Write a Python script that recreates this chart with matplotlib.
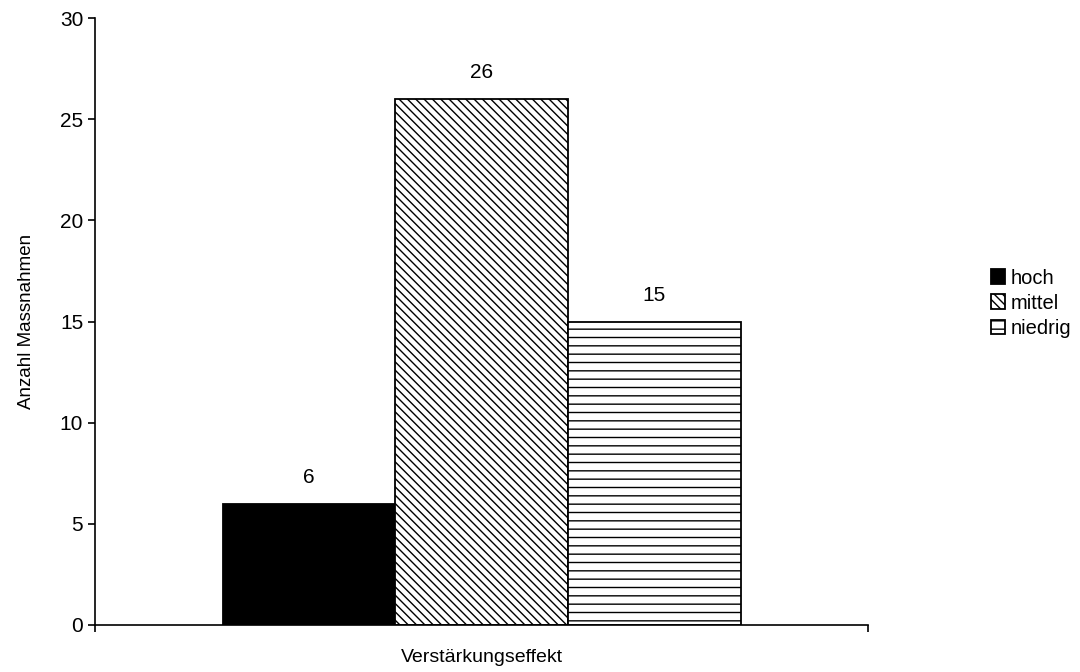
import numpy as np
import matplotlib
matplotlib.use("Agg")
import matplotlib.pyplot as plt

# data
kategorie = "Verstärkungseffekt"
stufen = ["hoch", "mittel", "niedrig"]
anzahl = [6, 26, 15]
muster = ["", "\\\\\\\\", "--"]
farben = ["black", "white", "white"]

plt.rcParams["font.family"] = ["Liberation Sans", "DejaVu Sans"]
plt.rcParams["hatch.linewidth"] = 1.0

fig = plt.figure(figsize=(10.8, 6.72), dpi=100)
ax = fig.add_axes([0.088, 0.070, 0.716, 0.903])

x = np.arange(len(stufen)) - 1
for i in range(len(stufen)):
    ax.bar(x[i], anzahl[i], width=1.0, color=farben[i], edgecolor="black",
           linewidth=1.3, hatch=muster[i], label=stufen[i])
    ax.annotate(str(anzahl[i]), (x[i], anzahl[i]), xytext=(0, 19),
                textcoords="offset points", ha="center", va="center", fontsize=15)

ax.set_xlim(-2.24, 2.24)
ax.set_ylim(0, 30)
ax.set_yticks(range(0, 31, 5))
ax.set_xticks([-2.24, 2.24])
ax.set_xticklabels(["", ""])
ax.tick_params(axis="both", direction="out", length=5, width=1.2, labelsize=15)
ax.spines["top"].set_visible(False)
ax.spines["right"].set_visible(False)
ax.spines["left"].set_linewidth(1.2)
ax.spines["bottom"].set_linewidth(1.2)

ax.set_ylabel("Anzahl Massnahmen", fontsize=13.5, labelpad=18)
ax.set_xlabel(kategorie, fontsize=14, labelpad=9)

fig.legend(loc="center left", bbox_to_anchor=(0.908, 0.549), frameon=False,
           handlelength=0.7, handleheight=0.7, handletextpad=0.3,
           labelspacing=0.3, borderpad=0, fontsize=14.5)

fig.savefig("out.png", dpi=100)
